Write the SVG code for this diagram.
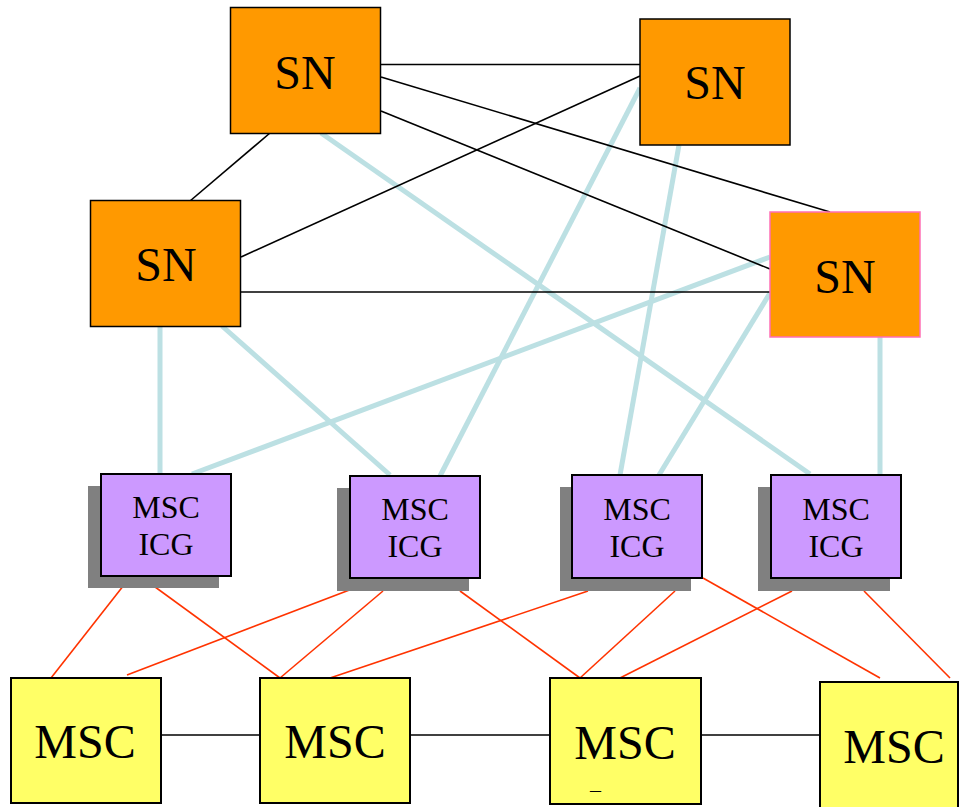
<svg xmlns="http://www.w3.org/2000/svg" width="959" height="807" viewBox="0 0 959 807">
<style>
.bk{stroke:#000;stroke-width:1.6;fill:none}
.bl{stroke:#BCE0E3;stroke-width:5;fill:none}
.rd{stroke:#FF3300;stroke-width:1.6;fill:none}
.sn{fill:#FF9900;stroke:#000;stroke-width:1.5}
.icg{fill:#CC99FF;stroke:#000;stroke-width:2}
.sh{fill:#808080}
.msc{fill:#FFFF66;stroke:#000;stroke-width:2}
text{font-family:"Liberation Serif","Times New Roman",serif;fill:#000;text-anchor:middle}
.t1{font-size:48px}
.t2{font-size:32px}
</style>
<rect width="959" height="807" fill="#fff"/>
<g id="connectors">
  <line class="bl" x1="160" y1="326" x2="160" y2="474"/>
  <line class="bl" x1="222" y1="326" x2="390" y2="475"/>
  <line class="bl" x1="770" y1="257" x2="192" y2="474"/>
  <line class="bl" x1="321" y1="133" x2="810" y2="474"/>
  <line class="bl" x1="640" y1="88" x2="440" y2="476"/>
  <line class="bl" x1="679" y1="145" x2="620" y2="475"/>
  <line class="bl" x1="770" y1="293" x2="659" y2="475"/>
  <line class="bl" x1="880" y1="337" x2="880" y2="475"/>
  <line class="bk" x1="381" y1="64.5" x2="640" y2="64.5"/>
  <line class="bk" x1="381" y1="77" x2="830" y2="212"/>
  <line class="bk" x1="381" y1="111" x2="770" y2="269"/>
  <line class="bk" x1="640" y1="76" x2="241" y2="257"/>
  <line class="bk" x1="270" y1="133" x2="190" y2="201"/>
  <line class="bk" x1="241" y1="292" x2="770" y2="292"/>
  <line class="bk" x1="161" y1="735" x2="260" y2="735"/>
  <line class="bk" x1="410" y1="735" x2="550" y2="735"/>
  <line class="bk" x1="701" y1="735" x2="819" y2="735"/>
  <line class="rd" x1="131" y1="576" x2="51" y2="678"/>
  <line class="rd" x1="140" y1="576" x2="280" y2="678"/>
  <line class="rd" x1="373" y1="581" x2="127" y2="675"/>
  <line class="rd" x1="383" y1="591" x2="280" y2="678"/>
  <line class="rd" x1="460" y1="591" x2="580" y2="678"/>
  <line class="rd" x1="588" y1="591" x2="330" y2="678"/>
  <line class="rd" x1="675" y1="591" x2="580" y2="678"/>
  <line class="rd" x1="703" y1="578" x2="880" y2="678"/>
  <line class="rd" x1="792" y1="591" x2="620" y2="678"/>
  <line class="rd" x1="864" y1="591" x2="950" y2="678"/>
</g>
<g id="sn1"><rect class="sn" x="230.5" y="7.5" width="150" height="126"/><text class="t1" x="305" y="89">SN</text></g>
<g id="sn2"><rect class="sn" x="640" y="19" width="150" height="126"/><text class="t1" x="715" y="99">SN</text></g>
<g id="sn3"><rect class="sn" x="90.5" y="200.5" width="150" height="126"/><text class="t1" x="166" y="281">SN</text></g>
<g id="sn4"><rect class="sn" x="770" y="212" width="150" height="125" style="stroke:#FF6FB5"/><text class="t1" x="845" y="293">SN</text></g>
<g id="icg1"><rect class="sh" x="88" y="486" width="131" height="102"/><rect class="icg" x="101" y="474" width="130" height="102"/><text class="t2" x="166" y="518">MSC</text><text class="t2" x="166" y="555">ICG</text></g>
<g id="icg2"><rect class="sh" x="337" y="488" width="132" height="103"/><rect class="icg" x="350" y="476" width="130" height="102"/><text class="t2" x="415" y="520">MSC</text><text class="t2" x="415" y="557">ICG</text></g>
<g id="icg3"><rect class="sh" x="560" y="487" width="131" height="104"/><rect class="icg" x="572" y="475" width="130" height="103"/><text class="t2" x="637" y="520">MSC</text><text class="t2" x="637" y="557">ICG</text></g>
<g id="icg4"><rect class="sh" x="758" y="487" width="132" height="104"/><rect class="icg" x="771" y="475" width="130" height="103"/><text class="t2" x="836" y="520">MSC</text><text class="t2" x="836" y="557">ICG</text></g>
<g id="msc1"><rect class="msc" x="11" y="678" width="150" height="125"/><text class="t1" x="85" y="758">MSC</text></g>
<g id="msc2"><rect class="msc" x="260" y="678" width="150" height="125"/><text class="t1" x="335" y="758">MSC</text></g>
<g id="msc3"><rect class="msc" x="550" y="678" width="151" height="126"/><text class="t1" x="625" y="759">MSC</text><text x="595.5" y="797" style="font-size:22px">–</text></g>
<g id="msc4"><rect class="msc" x="820" y="682" width="138" height="130"/><text class="t1" x="894" y="763">MSC</text></g>
</svg>
